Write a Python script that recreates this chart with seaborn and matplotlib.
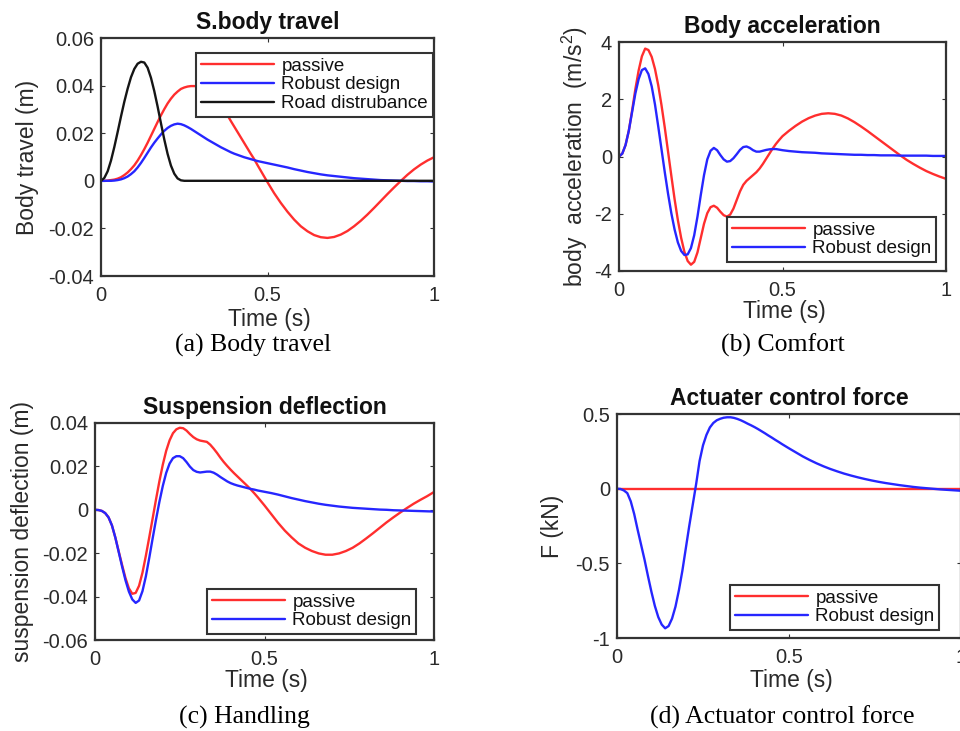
import numpy as np
import pandas as pd
import matplotlib
matplotlib.use("Agg")
import matplotlib.pyplot as plt
import seaborn as sns

# ---------------- time grid (0..0.5 every 0.01, then every 0.02) ----------------
t_fine = np.round(np.concatenate([np.arange(51) * 0.01, 0.52 + np.arange(25) * 0.02]), 2)

# ---------------- (a) body travel (m) ----------------
passive_a = [0.0, 0.0, 0.0001, 0.0003, 0.0005, 0.0009, 0.0015, 0.0024, 0.0035, 0.0049,
             0.0065, 0.0085, 0.0108, 0.0133, 0.0160, 0.0189, 0.0218, 0.0247, 0.0275, 0.0301,
             0.0325, 0.0345, 0.0362, 0.0375, 0.0386, 0.0392, 0.0396, 0.0398, 0.0398, 0.0397,
             0.0394, 0.0388, 0.0380, 0.0370, 0.0358, 0.0342, 0.0322, 0.0299, 0.0275, 0.0251,
             0.0228, 0.0205, 0.0182, 0.0159, 0.0136, 0.0113, 0.0091, 0.0066, 0.0042, 0.0018,
             -0.0006,
             -0.0052, -0.0093, -0.0130, -0.0163, -0.0191, -0.0212, -0.0228, -0.0237, -0.0240, -0.0236,
             -0.0226, -0.0211, -0.0191, -0.0168, -0.0142, -0.0114, -0.0085, -0.0056, -0.0028, -0.0001,
             0.0025, 0.0048, 0.0068, 0.0085, 0.0099]
robust_a = [0.0, 0.0, 0.0, 0.0, 0.0001, 0.0003, 0.0006, 0.0011, 0.0018, 0.0028,
            0.0040, 0.0056, 0.0075, 0.0096, 0.0118, 0.0140, 0.0160, 0.0178, 0.0195, 0.0210,
            0.0222, 0.0231, 0.0237, 0.0240, 0.0238, 0.0233, 0.0226, 0.0218, 0.0209, 0.0200,
            0.0191, 0.0182, 0.0173, 0.0165, 0.0157, 0.0149, 0.0141, 0.0134, 0.0127, 0.0120,
            0.0114, 0.0109, 0.0104, 0.0099, 0.0095, 0.0091, 0.0087, 0.0083, 0.0080, 0.0077,
            0.0074,
            0.0068, 0.0062, 0.0056, 0.0049, 0.0043, 0.0037, 0.0032, 0.0027, 0.0023, 0.0020,
            0.0017, 0.0014, 0.0011, 0.0009, 0.0007, 0.0005, 0.0003, 0.0002, 0.0001, 0.0,
            -0.0001, -0.0001, -0.0002, -0.0002, -0.0003]
road_a = [0.0, 0.0012, 0.0040, 0.0085, 0.0142, 0.0205, 0.0270, 0.0332, 0.0387, 0.0435,
          0.0470, 0.0492, 0.0500, 0.0497, 0.0475, 0.0433, 0.0377, 0.0312, 0.0242, 0.0174,
          0.0113, 0.0064, 0.0030, 0.0010, 0.0002, 0.0, 0.0, 0.0, 0.0, 0.0,
          0.0, 0.0, 0.0, 0.0, 0.0, 0.0, 0.0, 0.0, 0.0, 0.0,
          0.0, 0.0, 0.0, 0.0, 0.0, 0.0, 0.0, 0.0, 0.0, 0.0,
          0.0,
          0.0, 0.0, 0.0, 0.0, 0.0, 0.0, 0.0, 0.0, 0.0, 0.0,
          0.0, 0.0, 0.0, 0.0, 0.0, 0.0, 0.0, 0.0, 0.0, 0.0,
          0.0, 0.0, 0.0, 0.0, 0.0]

# ---------------- (b) body acceleration (m/s^2) ----------------
passive_b = [0.0, 0.1, 0.4, 0.9, 1.6, 2.35, 3.0, 3.5, 3.77, 3.72,
             3.48, 3.06, 2.49, 1.79, 1.01, 0.17, -0.67, -1.49, -2.22, -2.84,
             -3.33, -3.65, -3.78, -3.68, -3.35, -2.85, -2.35, -1.98, -1.77, -1.72,
             -1.79, -1.93, -2.05, -2.10, -2.03, -1.82, -1.52, -1.22, -0.99, -0.85,
             -0.75, -0.65, -0.55, -0.42, -0.26, -0.08, 0.10, 0.28, 0.44, 0.58,
             0.71,
             0.90, 1.07, 1.22, 1.34, 1.43, 1.49, 1.51, 1.49, 1.43, 1.33,
             1.20, 1.05, 0.89, 0.72, 0.55, 0.38, 0.21, 0.04, -0.12, -0.26,
             -0.39, -0.51, -0.61, -0.70, -0.78]
robust_b = [0.0, 0.1, 0.4, 0.9, 1.55, 2.2, 2.7, 3.02, 3.08, 2.88,
            2.45, 1.82, 1.05, 0.25, -0.55, -1.30, -1.98, -2.55, -3.0, -3.3,
            -3.44, -3.42, -3.2, -2.75, -2.1, -1.35, -0.65, -0.10, 0.20, 0.30,
            0.22, 0.05, -0.10, -0.18, -0.16, -0.06, 0.08, 0.23, 0.33, 0.35,
            0.30, 0.22, 0.17, 0.17, 0.20, 0.23, 0.25, 0.26, 0.26, 0.24,
            0.22,
            0.19, 0.17, 0.15, 0.14, 0.13, 0.11, 0.10, 0.09, 0.08, 0.07,
            0.06, 0.06, 0.05, 0.05, 0.04, 0.04, 0.04, 0.03, 0.03, 0.03,
            0.03, 0.03, 0.02, 0.02, 0.02]

# ---------------- (c) suspension deflection (m) ----------------
passive_c = [0.0, -0.0001, -0.0005, -0.0015, -0.0035, -0.0072, -0.0128, -0.0192, -0.0255, -0.0315,
             -0.0362, -0.0387, -0.0383, -0.0350, -0.0290, -0.0212, -0.0127, -0.0040, 0.0048, 0.0132,
             0.0208, 0.0272, 0.0320, 0.0353, 0.0371, 0.0378, 0.0376, 0.0365, 0.0349, 0.0335,
             0.0325, 0.0319, 0.0316, 0.0313, 0.0300, 0.0282, 0.0262, 0.0240, 0.0220, 0.0202,
             0.0185, 0.0169, 0.0154, 0.0139, 0.0124, 0.0109, 0.0093, 0.0076, 0.0058, 0.0039,
             0.0020,
             -0.0020, -0.0060, -0.0096, -0.0127, -0.0155, -0.0175, -0.0190, -0.0201, -0.0207, -0.0207,
             -0.0201, -0.0190, -0.0175, -0.0155, -0.0132, -0.0108, -0.0083, -0.0058, -0.0035, -0.0013,
             0.0008, 0.0028, 0.0046, 0.0063, 0.0082]
robust_c = [0.0, -0.0001, -0.0005, -0.0015, -0.0035, -0.0072, -0.0128, -0.0195, -0.0262, -0.0325,
            -0.0377, -0.0413, -0.0429, -0.0418, -0.0375, -0.0307, -0.0222, -0.0132, -0.0045, 0.0037,
            0.0110, 0.0170, 0.0213, 0.0238, 0.0247, 0.0247, 0.0238, 0.0220, 0.0199, 0.0183,
            0.0175, 0.0172, 0.0174, 0.0176, 0.0176, 0.0171, 0.0162, 0.0151, 0.0141, 0.0131,
            0.0123, 0.0117, 0.0112, 0.0108, 0.0104, 0.0100, 0.0096, 0.0093, 0.0089, 0.0086,
            0.0083,
            0.0077, 0.0070, 0.0062, 0.0054, 0.0047, 0.0040, 0.0034, 0.0028, 0.0023, 0.0019,
            0.0015, 0.0012, 0.0009, 0.0007, 0.0005, 0.0003, 0.0001, 0.0, -0.0002, -0.0003,
            -0.0004, -0.0005, -0.0006, -0.0007, -0.0008]

# ---------------- (d) actuator force (kN) ----------------
passive_d = [0.0] * 76
robust_d = [0.0, -0.002, -0.012, -0.03, -0.085, -0.17, -0.275, -0.375, -0.475, -0.585,
            -0.69, -0.785, -0.86, -0.91, -0.935, -0.92, -0.87, -0.79, -0.68, -0.55,
            -0.40, -0.25, -0.11, 0.03, 0.185, 0.29, 0.36, 0.41, 0.44, 0.458,
            0.468, 0.475, 0.478, 0.478, 0.474, 0.467, 0.458, 0.447, 0.435, 0.424,
            0.412, 0.399, 0.385, 0.371, 0.356, 0.342, 0.327, 0.313, 0.298, 0.284,
            0.270,
            0.243, 0.216, 0.192, 0.170, 0.150, 0.132, 0.116, 0.101, 0.088, 0.076,
            0.065, 0.055, 0.046, 0.038, 0.031, 0.024, 0.018, 0.012, 0.007, 0.003,
            -0.001, -0.005, -0.008, -0.011, -0.014]

# ---------------- labels ----------------
x_ticks = [0, 0.5, 1]
x_ticklabels = ["0", "0.5", "1"]
names3 = ["passive", "Robust design", "Road distrubance"]
names2 = ["passive", "Robust design"]
colors = {"passive": "#ff2e2e", "Robust design": "#2626ff", "Road distrubance": "#151515"}

# ---------------- style ----------------
sns.set_theme(style="ticks")
plt.rcParams["font.family"] = ["Liberation Sans", "DejaVu Sans"]
plt.rcParams["axes.unicode_minus"] = False
plt.rcParams["mathtext.fontset"] = "custom"
plt.rcParams["mathtext.rm"] = "Liberation Sans"
plt.rcParams["mathtext.it"] = "Liberation Sans"
plt.rcParams["mathtext.default"] = "regular"

W, H = 960, 731
fig = plt.figure(figsize=(9.6, 7.31), dpi=100)
fig.patch.set_facecolor("white")


def rect(l, t, r, b):
    return [l / W, 1 - b / H, (r - l) / W, (b - t) / H]


panels = [
    dict(box=(101, 38, 434, 276), names=names3,
         ys=[passive_a, robust_a, road_a], ylim=(-0.04, 0.06),
         yticks=[-0.04, -0.02, 0, 0.02, 0.04, 0.06],
         yticklabels=["-0.04", "-0.02", "0", "0.02", "0.04", "0.06"],
         title="S.body travel", ylabel="Body travel (m)", ylab_x=28,
         xlab_y=320, leg=(196, 53), caption="(a) Body travel", cap=(253, 345)),
    dict(box=(619, 42, 946, 271), names=names2,
         ys=[passive_b, robust_b], ylim=(-4, 4),
         yticks=[-4, -2, 0, 2, 4], yticklabels=["-4", "-2", "0", "2", "4"],
         title="Body acceleration", ylabel="body  acceleration  (m/s$^2$)", ylab_x=575,
         xlab_y=312, leg=(727, 217), caption="(b) Comfort", cap=(783, 345)),
    dict(box=(95, 423, 434, 640), names=names2,
         ys=[passive_c, robust_c], ylim=(-0.06, 0.04),
         yticks=[-0.06, -0.04, -0.02, 0, 0.02, 0.04],
         yticklabels=["-0.06", "-0.04", "-0.02", "0", "0.02", "0.04"],
         title="Suspension deflection", ylabel="suspension deflection (m)", ylab_x=23,
         xlab_y=680, leg=(207, 589), caption="(c) Handling", cap=(244, 717)),
    dict(box=(617, 414, 961, 638), names=names2,
         ys=[passive_d, robust_d], ylim=(-1, 0.5),
         yticks=[-1, -0.5, 0, 0.5], yticklabels=["-1", "-0.5", "0", "0.5"],
         title="Actuater control force", ylabel="F (kN)", ylab_x=553,
         xlab_y=680, leg=(730, 585), caption="(d) Actuator control force", cap=(782, 717)),
]

text_col = "#2a2a2a"
for p in panels:
    l, t, r, b = p["box"]
    ax = fig.add_axes(rect(l, t, r, b))
    n = len(p["names"])
    df = pd.DataFrame({
        "Time": np.concatenate([t_fine] * n),
        "value": np.concatenate([np.asarray(v, dtype=float) for v in p["ys"]]),
        "series": np.repeat(p["names"], len(t_fine)),
    })
    sns.lineplot(data=df, x="Time", y="value", hue="series", hue_order=p["names"],
                 palette=colors, linewidth=1.7, ax=ax, legend=False,
                 estimator=None, sort=False)
    ax.set_xlim(0, 1)
    ax.set_ylim(*p["ylim"])
    ax.set_xticks(x_ticks)
    ax.set_xticklabels(x_ticklabels)
    ax.set_yticks(p["yticks"])
    ax.set_yticklabels(p["yticklabels"])
    ax.tick_params(direction="in", length=3, width=0.8, top=True, right=True,
                   labelsize=14.5, colors="#333333", labelcolor=text_col)
    ax.tick_params(axis="x", pad=7)
    ax.tick_params(axis="y", pad=5)
    for s in ax.spines.values():
        s.set_linewidth(1.6)
        s.set_color("#333333")
    ax.set_facecolor("white")

    ax.set_title(p["title"], fontsize=16.5, fontweight="bold", color="#111111", pad=6.5)

    cx = (l + r) / 2 + 2
    ax.set_xlabel("Time (s)", fontsize=16.5, color=text_col)
    ax.xaxis.label.set_va("center")
    ax.xaxis.set_label_coords((cx - l) / (r - l), (b - p["xlab_y"]) / (b - t))
    ax.set_ylabel(p["ylabel"], fontsize=16.5, color=text_col)
    ax.yaxis.label.set_va("center")
    ax.yaxis.set_label_coords((p["ylab_x"] - l) / (r - l), 0.5)

    handles = ax.lines[:n]
    leg = ax.legend(handles, p["names"], loc="upper left",
                    bbox_to_anchor=(p["leg"][0] / W, 1 - p["leg"][1] / H),
                    bbox_transform=fig.transFigure, fontsize=13.5,
                    frameon=True, fancybox=False, framealpha=1, edgecolor="#333333",
                    borderpad=0.25, labelspacing=0.08, handlelength=3.9,
                    handletextpad=0.4, borderaxespad=0)
    leg.get_frame().set_linewidth(1.5)
    for txt in leg.get_texts():
        txt.set_color("#111111")

    fig.text(p["cap"][0] / W, 1 - p["cap"][1] / H, p["caption"],
             family=["Liberation Serif", "DejaVu Serif"], fontsize=18.5,
             color="black", ha="center", va="center")

fig.savefig("out.png", dpi=100, facecolor="white")
